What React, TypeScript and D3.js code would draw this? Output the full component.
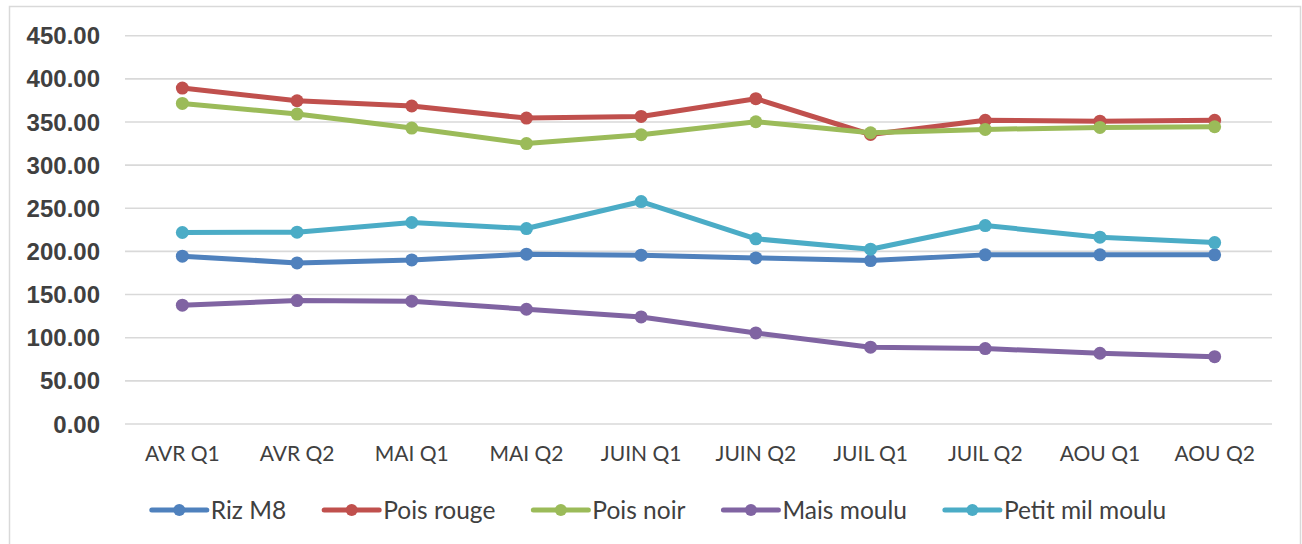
import { useRef, useEffect } from 'react';
import * as d3 from 'd3';

const categories = ['AVR Q1', 'AVR Q2', 'MAI Q1', 'MAI Q2', 'JUIN Q1', 'JUIN Q2', 'JUIL Q1', 'JUIL Q2', 'AOU Q1', 'AOU Q2'];
const rizM8 = [194.5, 186.7, 190.2, 196.8, 195.6, 192.5, 189.4, 196, 196, 196];
const poisRouge = [389.3, 374.6, 368.5, 354.5, 356.4, 377, 335.5, 352, 351, 352];
const poisNoir = [371.5, 359.2, 343, 325, 335.2, 350.3, 337.5, 341.4, 343.7, 344.5];
const maisMoulu = [137.7, 143, 142.3, 133, 124.1, 105.5, 89, 87.4, 82, 78];
const petitMilMoulu = [221.9, 222.3, 233.5, 226.5, 257.8, 214.6, 202.6, 230, 216.5, 210.3];
const yTicks = [0, 50, 100, 150, 200, 250, 300, 350, 400, 450];

const series = [
  { name: 'Riz M8', values: rizM8, color: '#4F81BD' },
  { name: 'Pois rouge', values: poisRouge, color: '#C0504D' },
  { name: 'Pois noir', values: poisNoir, color: '#9BBB59' },
  { name: 'Mais moulu', values: maisMoulu, color: '#8064A2' },
  { name: 'Petit mil moulu', values: petitMilMoulu, color: '#4BACC6' },
];

export default function App() {
  const svgRef = useRef<SVGSVGElement>(null);
  const width = 1302;
  const height = 544;

  useEffect(() => {
    if (!svgRef.current) return;
    const svg = d3.select(svgRef.current);
    svg.selectAll('*').remove();

    const left = 125;
    const right = 1272;
    const top = 35.7;
    const bottom = 424;

    // chart frame
    svg.append('rect')
      .attr('x', 9.5)
      .attr('y', 6.5)
      .attr('width', 1291)
      .attr('height', 560)
      .attr('fill', '#fff')
      .attr('stroke', '#d9d9d9')
      .attr('stroke-width', 1.5);

    const x = d3.scaleBand().domain(categories).range([left, right]);
    const y = d3.scaleLinear().domain([0, 450]).range([bottom, top]);
    const cxOf = (i: number) => (x(categories[i]) || 0) + x.bandwidth() / 2;

    // grid
    svg.append('g')
      .selectAll('line')
      .data(yTicks)
      .join('line')
      .attr('x1', left)
      .attr('x2', right)
      .attr('y1', (d) => y(d))
      .attr('y2', (d) => y(d))
      .attr('stroke', '#d9d9d9')
      .attr('stroke-width', 1.6);

    // y labels
    svg.append('g')
      .selectAll('text')
      .data(yTicks)
      .join('text')
      .attr('x', 100)
      .attr('y', (d) => y(d))
      .attr('dy', '0.36em')
      .attr('text-anchor', 'end')
      .attr('font-family', 'Liberation Sans, Arial, sans-serif')
      .attr('font-weight', 'bold')
      .attr('font-size', 24)
      .attr('fill', '#404040')
      .text((d) => d3.format('.2f')(d));

    // x labels
    svg.append('g')
      .selectAll('text')
      .data(categories)
      .join('text')
      .attr('x', (_, i) => cxOf(i))
      .attr('y', 453)
      .attr('dy', '0.36em')
      .attr('text-anchor', 'middle')
      .attr('font-family', 'Lato, sans-serif')
      .attr('font-size', 21)
      .attr('fill', '#404040')
      .text((d) => d);

    const line = d3.line<number>()
      .x((_, i) => cxOf(i))
      .y((d) => y(d));

    series.forEach((s) => {
      const g = svg.append('g');
      g.append('path')
        .attr('d', line(s.values))
        .attr('fill', 'none')
        .attr('stroke', s.color)
        .attr('stroke-width', 5)
        .attr('stroke-linejoin', 'round')
        .attr('stroke-linecap', 'round');
      g.selectAll('circle')
        .data(s.values)
        .join('circle')
        .attr('cx', (_, i) => cxOf(i))
        .attr('cy', (d) => y(d))
        .attr('r', 6.5)
        .attr('fill', s.color);
    });

    // legend
    const legend = svg.append('g');
    const ly = 510;
    const gap = 38;
    let pos = 0;
    series.forEach((s) => {
      const item = legend.append('g').attr('transform', `translate(${pos},0)`);
      item.append('line')
        .attr('x1', 0)
        .attr('x2', 55)
        .attr('y1', ly)
        .attr('y2', ly)
        .attr('stroke', s.color)
        .attr('stroke-width', 5)
        .attr('stroke-linecap', 'round');
      item.append('circle')
        .attr('cx', 27.5)
        .attr('cy', ly)
        .attr('r', 6)
        .attr('fill', s.color);
      const t = item.append('text')
        .attr('x', 59)
        .attr('y', ly)
        .attr('dy', '0.36em')
        .attr('font-family', 'Lato, sans-serif')
        .attr('font-size', 24.5)
        .attr('fill', '#404040')
        .text(s.name);
      const tw = (t.node() as SVGTextElement).getComputedTextLength();
      pos += 59 + tw + gap;
    });
    const total = pos - gap;
    legend.attr('transform', `translate(${659 - total / 2},0)`);
  }, []);

  return (
    <svg
      ref={svgRef}
      width={width}
      height={height}
      style={{ position: 'absolute', left: 0, top: 0, background: '#fff' }}
    />
  );
}
